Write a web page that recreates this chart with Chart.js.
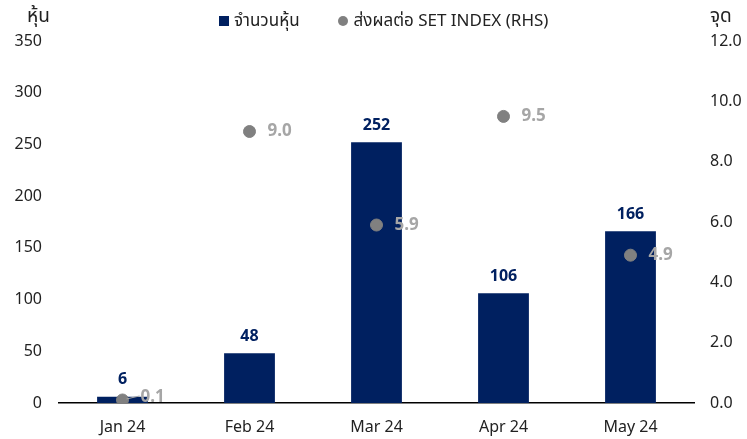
<!DOCTYPE html>
<html><head><meta charset="utf-8">
<script src="https://cdn.jsdelivr.net/npm/chart.js@4.4.1/dist/chart.umd.min.js"></script>
<style>
html,body{margin:0;padding:0;background:#fff;}
#wrap{position:relative;width:747px;height:439px;}
.ttl{position:absolute;font-family:"Noto Sans","Noto Sans Thai",sans-serif;font-size:19px;color:#222;}
#legend{position:absolute;left:219px;top:8px;font-family:"Noto Sans","Noto Sans Thai",sans-serif;font-size:17px;color:#222;white-space:nowrap;display:flex;align-items:center;}
.sq{display:inline-block;width:10px;height:10px;background:#002060;margin-right:5px;}
.ci{display:inline-block;width:10px;height:10px;border-radius:50%;background:#808080;margin-right:6px;margin-left:38px;}
</style></head>
<body>
<div id="wrap">
<canvas id="c" width="747" height="439"></canvas>
<div class="ttl" style="left:27px;top:2px;">หุ้น</div>
<div class="ttl" style="left:710px;top:2px;">จุด</div>
<div id="legend"><span class="sq"></span><span id="l0"></span><span class="ci"></span><span id="l1"></span></div>
</div>
<script>
const categories = ["Jan 24","Feb 24","Mar 24","Apr 24","May 24"];
const shares = [6, 48, 252, 106, 166];
const setImpact = [0.1, 9.0, 5.9, 9.5, 4.9];
const leftTicks = [0,50,100,150,200,250,300,350];
const rightTicks = [0,2,4,6,8,10,12];
const seriesNames = ['จำนวนหุ้น','ส่งผลต่อ SET INDEX (RHS)'];
document.getElementById('l0').textContent = seriesNames[0];
document.getElementById('l1').textContent = seriesNames[1];

const FONT = '"Noto Sans", "Noto Sans Thai", sans-serif';

const labelPlugin = {
  id:'labels',
  afterDatasetsDraw(chart){
    const ctx = chart.ctx;
    ctx.save();
    const m0 = chart.getDatasetMeta(0);
    ctx.font = 'bold 16px ' + FONT;
    ctx.fillStyle = '#002060';
    ctx.textAlign = 'center';
    ctx.textBaseline = 'middle';
    m0.data.forEach((el,i)=>{
      ctx.fillText(String(shares[i]), el.x, el.y - 17);
    });
    const m1 = chart.getDatasetMeta(1);
    ctx.font = 'bold 17px ' + FONT;
    ctx.fillStyle = '#a6a6a6';
    ctx.textAlign = 'left';
    m1.data.forEach((el,i)=>{
      let dy = 0;
      if (i===0) {
        ctx.strokeStyle = '#a6a6a6'; ctx.lineWidth = 1;
        ctx.beginPath(); ctx.moveTo(el.x+4, el.y-1); ctx.lineTo(el.x+17, el.y-4); ctx.stroke();
        dy = -3;
      }
      ctx.fillText(setImpact[i].toFixed(1), el.x + 18, el.y + dy);
    });
    ctx.restore();
  }
};

new Chart(document.getElementById('c'), {
  data:{
    labels: categories,
    datasets:[
      {type:'bar', label:seriesNames[0], data: shares, backgroundColor:'#002060', yAxisID:'y',
       categoryPercentage:1, barPercentage:0.4, order:2},
      {type:'line', label:seriesNames[1], data: setImpact, yAxisID:'y1', showLine:false,
       pointRadius:6, pointHoverRadius:6, pointBackgroundColor:'#808080', pointBorderColor:'#808080',
       backgroundColor:'#808080', borderColor:'#808080', order:1}
    ]
  },
  options:{
    responsive:false, animation:false, devicePixelRatio:1,
    layout:{padding:{top:41,left:0,right:0,bottom:0}},
    plugins:{ legend:{display:false}, tooltip:{enabled:false} },
    scales:{
      x:{grid:{display:false, drawTicks:false}, border:{display:true,color:'#000',width:1.5},
         ticks:{font:{family:FONT,size:16}, color:'#222', padding:15},
         afterFit(s){ s.height = 36; }},
      y:{position:'left', min:0, max:350, grid:{display:false, drawTicks:false}, border:{display:false},
         afterBuildTicks(s){ s.ticks = leftTicks.map(v=>({value:v})); },
         ticks:{font:{family:FONT,size:16}, color:'#222', padding:17},
         afterFit(s){ s.width = 59; }},
      y1:{position:'right', min:0, max:12, grid:{display:false, drawTicks:false}, border:{display:false},
         afterBuildTicks(s){ s.ticks = rightTicks.map(v=>({value:v})); },
         ticks:{font:{family:FONT,size:16}, color:'#222', padding:16, callback:v=>Number(v).toFixed(1)},
         afterFit(s){ s.width = 53; }}
    }
  },
  plugins:[labelPlugin]
});
</script>
</body></html>
